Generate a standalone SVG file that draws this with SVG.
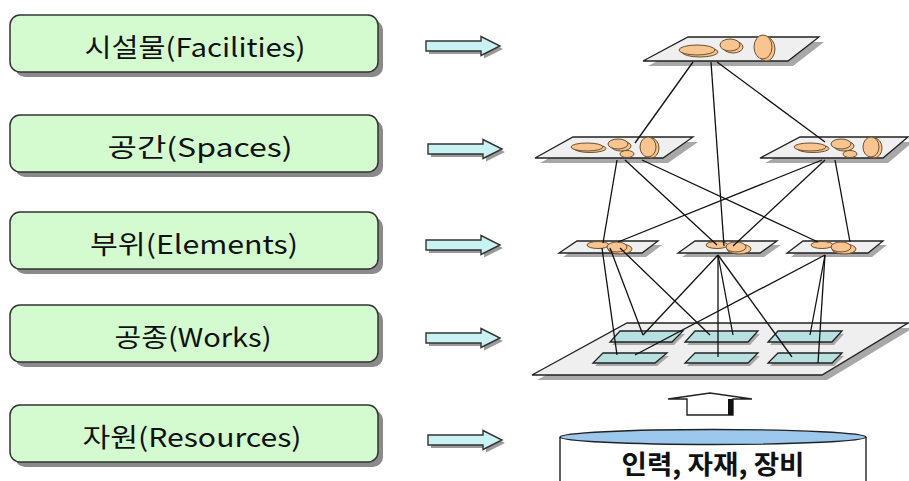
<svg xmlns="http://www.w3.org/2000/svg" xmlns:xlink="http://www.w3.org/1999/xlink" width="909" height="481" viewBox="0 0 909 481">
<style>
.box{fill:#d4fbd0;stroke:#333;stroke-width:1.5}
.boxsh{fill:#8a8a8a}
.lbl{font-family:"Noto Sans CJK KR","Liberation Sans",sans-serif;font-size:26px;fill:#111;text-anchor:middle}
.arr{fill:#c9f2f2;stroke:#333;stroke-width:1.4}
.arrsh{fill:#9a9a9a}
.pl{fill:#efefef;stroke:#222;stroke-width:1.3}
.plsh{fill:#a8a8a8}
.wk{fill:#b9e0e0;stroke:#222;stroke-width:1.3}
.bl{fill:#f8c490;stroke:#6b5030;stroke-width:1}
.cn line{stroke:#111;stroke-width:1.3}
</style>
<defs>
<path id="rarrow" d="M0,-5 H55 V-9.5 L74,0 L55,9.5 V5 H0 Z"/>
<g id="blobL2">
<ellipse cx="3" cy="1.5" rx="16" ry="4" class="bl"/>
<ellipse cx="0" cy="0" rx="16" ry="4" class="bl"/>
<ellipse cx="34" cy="-1" rx="10" ry="5" class="bl"/>
<ellipse cx="31" cy="-3" rx="10" ry="5" class="bl"/>
<ellipse cx="40" cy="7" rx="7" ry="3.5" class="bl"/>
<ellipse cx="64" cy="1" rx="8" ry="10" class="bl"/>
<ellipse cx="61" cy="0" rx="8" ry="10" class="bl"/>
</g>
<g id="blobL3">
<ellipse cx="0" cy="0" rx="11" ry="3.5" class="bl"/>
<ellipse cx="22" cy="4" rx="12" ry="5" class="bl"/>
<ellipse cx="19" cy="2" rx="10" ry="5" class="bl"/>
</g>
</defs>
<rect width="909" height="481" fill="#ffffff"/>

<g id="box-facilities">
<rect x="15" y="20" width="368" height="57" rx="10" class="boxsh"/>
<rect x="10" y="15" width="368" height="57" rx="10" class="box"/>
<text x="195" y="57" class="lbl" textLength="221" lengthAdjust="spacingAndGlyphs">시설물(Facilities)</text>
</g>
<g id="box-spaces">
<rect x="15" y="120" width="368" height="57" rx="10" class="boxsh"/>
<rect x="10" y="115" width="368" height="57" rx="10" class="box"/>
<text x="200" y="157" class="lbl" textLength="185" lengthAdjust="spacingAndGlyphs">공간(Spaces)</text>
</g>
<g id="box-elements">
<rect x="15" y="217" width="368" height="57" rx="10" class="boxsh"/>
<rect x="10" y="212" width="368" height="57" rx="10" class="box"/>
<text x="194" y="254" class="lbl" textLength="208" lengthAdjust="spacingAndGlyphs">부위(Elements)</text>
</g>
<g id="box-works">
<rect x="15" y="310" width="368" height="57" rx="10" class="boxsh"/>
<rect x="10" y="305" width="368" height="57" rx="10" class="box"/>
<text x="193" y="347" class="lbl" textLength="157" lengthAdjust="spacingAndGlyphs">공종(Works)</text>
</g>
<g id="box-resources">
<rect x="15" y="410" width="368" height="57" rx="10" class="boxsh"/>
<rect x="10" y="405" width="368" height="57" rx="10" class="box"/>
<text x="192" y="447" class="lbl" textLength="219" lengthAdjust="spacingAndGlyphs">자원(Resources)</text>
</g>

<g id="arrows">
<use xlink:href="#rarrow" x="429" y="49" class="arrsh"/>
<use xlink:href="#rarrow" x="426" y="46" class="arr"/>
<use xlink:href="#rarrow" x="431" y="152" class="arrsh"/>
<use xlink:href="#rarrow" x="428" y="149" class="arr"/>
<use xlink:href="#rarrow" x="429" y="248" class="arrsh"/>
<use xlink:href="#rarrow" x="426" y="245" class="arr"/>
<use xlink:href="#rarrow" x="429" y="341" class="arrsh"/>
<use xlink:href="#rarrow" x="426" y="338" class="arr"/>
<use xlink:href="#rarrow" x="431" y="443" class="arrsh"/>
<use xlink:href="#rarrow" x="428" y="440" class="arr"/>
</g>

<g id="plane-works">
<polygon points="632,328 913,328 827,380 537,380" class="plsh"/>
<polygon points="627,323 908,323 822,375 532,375" class="pl"/>
<g>
<polygon points="622,334 685,334 674,345 612,345" class="plsh"/>
<polygon points="620,331 683,331 672,342 610,342" class="wk"/>
<polygon points="697,334 760,334 750,345 687,345" class="plsh"/>
<polygon points="695,331 758,331 748,342 685,342" class="wk"/>
<polygon points="780,334 844,334 834,345 770,345" class="plsh"/>
<polygon points="778,331 842,331 832,342 768,342" class="wk"/>
<polygon points="605,356 669,356 657,366 595,366" class="plsh"/>
<polygon points="603,353 667,353 655,363 593,363" class="wk"/>
<polygon points="697,356 760,356 750,366 687,366" class="plsh"/>
<polygon points="695,353 758,353 748,363 685,363" class="wk"/>
<polygon points="780,356 844,356 834,366 770,366" class="plsh"/>
<polygon points="778,353 842,353 832,363 768,363" class="wk"/>
</g>
</g>

<g id="plane-facilities">
<polygon points="693,42 824,42 793,66 648,66" class="plsh"/>
<polygon points="688,37 819,37 788,61 643,61" class="pl"/>
<ellipse cx="700" cy="52" rx="18" ry="5" class="bl"/>
<ellipse cx="697" cy="50" rx="18" ry="5" class="bl"/>
<ellipse cx="733" cy="47" rx="10" ry="6" class="bl"/>
<ellipse cx="730" cy="45" rx="10" ry="6" class="bl"/>
<ellipse cx="766" cy="49" rx="9" ry="12" class="bl"/>
<ellipse cx="763" cy="47" rx="9" ry="12" class="bl"/>
</g>

<g id="plane-space-left">
<polygon points="578,142 698,142 668,163 540,163" class="plsh"/>
<polygon points="573,137 693,137 663,158 535,158" class="pl"/>
<use xlink:href="#blobL2" x="587" y="147"/>
</g>
<g id="plane-space-right">
<polygon points="805,142 913,142 888,163 765,163" class="plsh"/>
<polygon points="800,137 908,137 883,158 760,158" class="pl"/>
<use xlink:href="#blobL2" x="810" y="147"/>
</g>

<g id="plane-elem-left">
<polygon points="581,245 662,245 646,257 563,257" class="plsh"/>
<polygon points="577,241 658,241 642,253 559,253" class="pl"/>
<use xlink:href="#blobL3" x="598" y="245"/>
</g>
<g id="plane-elem-mid">
<polygon points="699,245 781,245 764,257 682,257" class="plsh"/>
<polygon points="695,241 777,241 760,253 678,253" class="pl"/>
<use xlink:href="#blobL3" x="717" y="245"/>
</g>
<g id="plane-elem-right">
<polygon points="807,245 887,245 872,257 791,257" class="plsh"/>
<polygon points="803,241 883,241 868,253 787,253" class="pl"/>
<use xlink:href="#blobL3" x="822" y="245"/>
</g>

<g id="connectors" class="cn">
<line x1="693" y1="62" x2="635" y2="143"/>
<line x1="711" y1="62" x2="724" y2="246"/>
<line x1="717" y1="62" x2="825" y2="142"/>
<line x1="617" y1="160" x2="603" y2="243"/>
<line x1="625" y1="160" x2="717" y2="245"/>
<line x1="642" y1="160" x2="818" y2="242"/>
<line x1="822" y1="160" x2="618" y2="242"/>
<line x1="825" y1="160" x2="733" y2="246"/>
<line x1="835" y1="160" x2="850" y2="242"/>
<line x1="602" y1="248" x2="617" y2="355"/>
<line x1="610" y1="248" x2="643" y2="335"/>
<line x1="620" y1="248" x2="710" y2="335"/>
<line x1="718" y1="255" x2="643" y2="335"/>
<line x1="718" y1="255" x2="718" y2="357"/>
<line x1="718" y1="255" x2="733" y2="335"/>
<line x1="718" y1="255" x2="792" y2="357"/>
<line x1="825" y1="255" x2="635" y2="355"/>
<line x1="825" y1="255" x2="810" y2="335"/>
<line x1="825" y1="255" x2="818" y2="363"/>
</g>

<g id="up-arrow">
<polygon points="687,415 687,399 668,399 710,393 752,399 733,399 733,415" fill="#ffffff" stroke="#222" stroke-width="1.4"/>
<rect x="728" y="399" width="5" height="16" fill="#111"/>
</g>

<g id="resources-db">
<path d="M560,437 V485 H866 V437" fill="#ffffff" stroke="#222" stroke-width="1.4"/>
<ellipse cx="713" cy="437" rx="153" ry="7.5" fill="#9cc8ee" stroke="#222" stroke-width="1.4"/>
<text x="713" y="474" font-family="'Noto Sans CJK KR','Liberation Sans',sans-serif" font-size="26" font-weight="bold" fill="#111" text-anchor="middle" textLength="183" lengthAdjust="spacingAndGlyphs">인력, 자재, 장비</text>
</g>
</svg>
